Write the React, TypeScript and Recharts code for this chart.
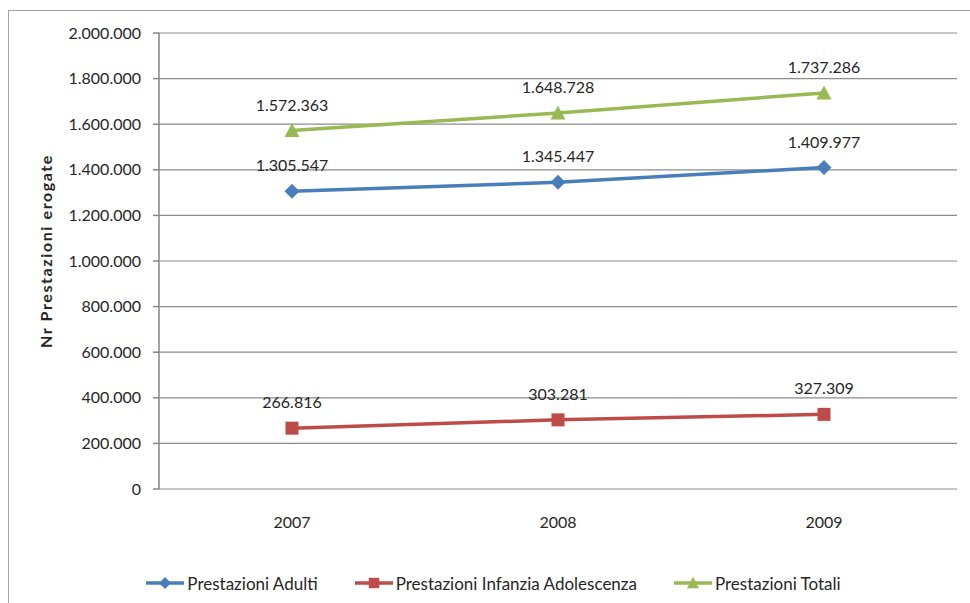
import { LineChart, Line, XAxis, YAxis, CartesianGrid, Legend, LabelList, Label } from "recharts";

const years = ["2007", "2008", "2009"];
const adulti = [1305547, 1345447, 1409977];
const infanzia = [266816, 303281, 327309];
const totali = [1572363, 1648728, 1737286];
const yTicks = [0, 200000, 400000, 600000, 800000, 1000000, 1200000, 1400000, 1600000, 1800000, 2000000];
const edgeTicks = [0, 1, 2, 3];

const data = years.map((year, i) => ({
  year,
  adulti: adulti[i],
  infanzia: infanzia[i],
  totali: totali[i],
}));

const series = [
  { key: "adulti", name: "Prestazioni Adulti", color: "#4A7EBB", marker: "diamond" },
  { key: "infanzia", name: "Prestazioni Infanzia Adolescenza", color: "#BE4B48", marker: "square" },
  { key: "totali", name: "Prestazioni Totali", color: "#98B954", marker: "triangle" },
];

const FONT = "Lato, 'Open Sans', sans-serif";
const TEXT = "#262626";
const AXIS = "#868686";

const fmt = (v: number) => String(v).replace(/\B(?=(\d{3})+(?!\d))/g, ".");

function Marker({ cx, cy, type, color, k = 1 }: { cx: number; cy: number; type: string; color: string; k?: number }) {
  if (type === "diamond") {
    const r = 7.5 * k;
    return <polygon points={`${cx},${cy - r} ${cx + r},${cy} ${cx},${cy + r} ${cx - r},${cy}`} fill={color} />;
  }
  if (type === "square") {
    const s = 13 * k;
    return <rect x={cx - s / 2} y={cy - s / 2} width={s} height={s} fill={color} />;
  }
  const h = 13 * k;
  const w = 7.5 * k;
  return <polygon points={`${cx},${cy - h / 2 - 1} ${cx + w},${cy + h / 2} ${cx - w},${cy + h / 2}`} fill={color} />;
}

function LegendContent() {
  return (
    <div
      style={{
        height: 40,
        display: "flex",
        justifyContent: "center",
        alignItems: "center",
        gap: 37,
        fontFamily: FONT,
        fontSize: 17,
        color: TEXT,
        paddingLeft: 30,
        boxSizing: "border-box",
      }}
    >
      {series.map((s) => (
        <div key={s.key} style={{ display: "flex", alignItems: "center", gap: 3 }}>
          <svg width={38} height={16}>
            <line x1={0} y1={8} x2={38} y2={8} stroke={s.color} strokeWidth={3.5} />
            <Marker cx={19} cy={8} type={s.marker} color={s.color} k={0.8} />
          </svg>
          <span>{s.name}</span>
        </div>
      ))}
    </div>
  );
}

function YTitle({ viewBox }: any) {
  const x = viewBox.x + 45;
  const y = viewBox.y + viewBox.height / 2 - 10;
  return (
    <text
      x={x}
      y={y}
      transform={`rotate(-90 ${x} ${y})`}
      textAnchor="middle"
      dominantBaseline="central"
      fontWeight={700}
      fontSize={16}
      letterSpacing={1.6}
      fill={TEXT}
    >
      Nr Prestazioni erogate
    </text>
  );
}

export default function App() {
  return (
    <div style={{ position: "relative", width: 970, height: 603, overflow: "hidden", background: "#fff" }}>
      <style>{`body{margin:0}`}</style>
      <div
        style={{
          position: "absolute",
          left: 8,
          top: 10,
          width: 1000,
          height: 700,
          border: "1.5px solid #A6A6A6",
          pointerEvents: "none",
        }}
      />
      <LineChart
        width={970}
        height={603}
        data={data}
        margin={{ top: 33, right: 13, left: 0, bottom: 0 }}
        style={{ fontFamily: FONT }}
      >
        <CartesianGrid vertical={false} stroke="#8C8C8C" strokeWidth={1.2} />
        <XAxis
          xAxisId="edge"
          type="number"
          domain={[0, 3]}
          ticks={edgeTicks}
          tickFormatter={() => ""}
          height={0}
          tickSize={6}
          stroke={AXIS}
          strokeWidth={1.5}
        />
        <XAxis
          xAxisId="cat"
          dataKey="year"
          padding={{ left: 133, right: 133 }}
          axisLine={false}
          tickLine={false}
          height={74}
          tickMargin={22}
          tick={{ fill: TEXT, fontSize: 16 }}
        />
        <YAxis
          domain={[0, 2000000]}
          ticks={yTicks}
          width={159}
          tickFormatter={fmt}
          tickSize={6}
          tickMargin={12}
          stroke={AXIS}
          strokeWidth={1.5}
          tick={{ fill: TEXT, fontSize: 16 }}
        >
          <Label content={<YTitle />} />
        </YAxis>
        <Legend verticalAlign="bottom" content={<LegendContent />} />
        {series.map((s) => (
          <Line
            key={s.key}
            xAxisId="cat"
            dataKey={s.key}
            name={s.name}
            stroke={s.color}
            strokeWidth={3.5}
            isAnimationActive={false}
            dot={(p: any) => <Marker key={`${s.key}-${p.index}`} cx={p.cx} cy={p.cy} type={s.marker} color={s.color} />}
            activeDot={false}
          >
            <LabelList dataKey={s.key} position="top" offset={20} formatter={fmt} fill={TEXT} fontSize={16} />
          </Line>
        ))}
      </LineChart>
    </div>
  );
}
